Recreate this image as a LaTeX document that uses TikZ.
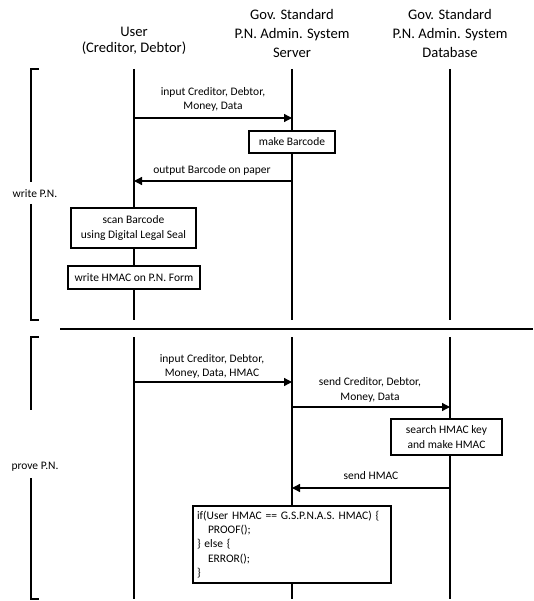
\documentclass[tikz,border=0pt]{standalone}
\usepackage{fontspec}
\setmainfont{Carlito}
\usetikzlibrary{arrows.meta}
\begin{document}
\begin{tikzpicture}[x=1pt,y=-1pt,
  life/.style={line width=1.3pt},
  brk/.style={line width=1.3pt},
  msg/.style={line width=1.3pt,-{Triangle[length=8pt,width=8pt]}},
  act/.style={draw,line width=1.3pt,fill=white,align=center,inner sep=1pt,
    font=\fontsize{11.5}{14.5}\selectfont},
  head/.style={align=center,font=\fontsize{14.6}{19}\selectfont},
  lbl/.style={align=center,font=\fontsize{11.5}{14.5}\selectfont,inner sep=1pt}]
\useasboundingbox (0,0) rectangle (533,601);

% headers
\node[head,font=\fontsize{14.6}{16.5}\selectfont] (hu) at (134,41) {User\\(Creditor, Debtor)};
\node[head] (hs) at (292,33) {Gov. Standard\\P.N. Admin. System\\Server};
\node[head] (hd) at (450,33) {Gov. Standard\\P.N. Admin. System\\Database};

% lifeline coordinates
\coordinate (u0) at (134,69);  \coordinate (u1) at (134,320);
\coordinate (u2) at (134,337); \coordinate (u3) at (134,599);
\coordinate (s0) at (292,69);  \coordinate (s1) at (292,320);
\coordinate (s2) at (292,337); \coordinate (s3) at (292,599);
\coordinate (d0) at (450,69);  \coordinate (d1) at (450,320);
\coordinate (d2) at (450,337); \coordinate (d3) at (450,599);
\draw[life] (u0) -- (u1) (u2) -- (u3);
\draw[life] (s0) -- (s1) (s2) -- (s3);
\draw[life] (d0) -- (d1) (d2) -- (d3);

% section brackets
\node[lbl] (wpn) at (35,194) {write P.N.};
\node[lbl] (ppn) at (35,467) {prove P.N.};
\coordinate (b1a) at (39,69);  \coordinate (b1b) at (31,69);
\coordinate (b1c) at (31,182); \coordinate (b1d) at (31,204);
\coordinate (b1e) at (31,320); \coordinate (b1f) at (39,320);
\draw[brk] (b1a) -- (b1b) -- (b1c) (b1d) -- (b1e) -- (b1f);
\coordinate (b2a) at (39,337);  \coordinate (b2b) at (31,337);
\coordinate (b2c) at (31,410);  \coordinate (b2d) at (31,478);
\coordinate (b2e) at (31,599);  \coordinate (b2f) at (39,599);
\draw[brk] (b2a) -- (b2b) -- (b2c) (b2d) -- (b2e) -- (b2f);

% separator
\coordinate (sepl) at (60,329); \coordinate (sepr) at (533,329);
\draw[line width=1.5pt] (sepl) -- (sepr);

% section 1
\coordinate (m1u) at (134,118); \coordinate (m1s) at (292,118);
\draw[msg] (m1u) -- (m1s);
\node[lbl] (l1) at (213,99.5) {input Creditor, Debtor,\\Money, Data};

\node[act,minimum width=86pt,minimum height=22pt] (mb) at (292,142) {make Barcode};

\coordinate (m2s) at (292,181); \coordinate (m2u) at (134,181);
\draw[msg] (m2s) -- (m2u);
\node[lbl] (l2) at (212,170) {output Barcode on paper};

\node[act,minimum width=125pt,minimum height=40pt] (scan) at (133.5,228) {scan Barcode\\using Digital Legal Seal};
\node[act,minimum width=132pt,minimum height=23pt] (wh) at (134,277.5) {write HMAC on P.N. Form};

% section 2
\coordinate (m3u) at (134,382); \coordinate (m3s) at (292,382);
\draw[msg] (m3u) -- (m3s);
\node[lbl] (l3) at (212,366.5) {input Creditor, Debtor,\\Money, Data, HMAC};

\coordinate (m4s) at (292,407); \coordinate (m4d) at (450,407);
\draw[msg] (m4s) -- (m4d);
\node[lbl] (l4) at (370,390) {send Creditor, Debtor,\\Money, Data};

\node[act,minimum width=111pt,minimum height=36pt] (sh) at (446.5,437) {search HMAC key\\and make HMAC};

\coordinate (m5d) at (450,488); \coordinate (m5s) at (292,488);
\draw[msg] (m5d) -- (m5s);
\node[lbl] (l5) at (371,476) {send HMAC};

\node[draw,line width=1.3pt,fill=white,align=left,text width=190pt,inner xsep=4pt,inner ysep=3pt,
  minimum height=77pt,font=\fontsize{11.5}{14.3}\selectfont] (code) at (292,544.5)
  {if(User HMAC == G.S.P.N.A.S. HMAC) \{\\
   \hspace*{11pt}PROOF();\\
   \} else \{\\
   \hspace*{11pt}ERROR();\\
   \}};
\end{tikzpicture}
\end{document}
